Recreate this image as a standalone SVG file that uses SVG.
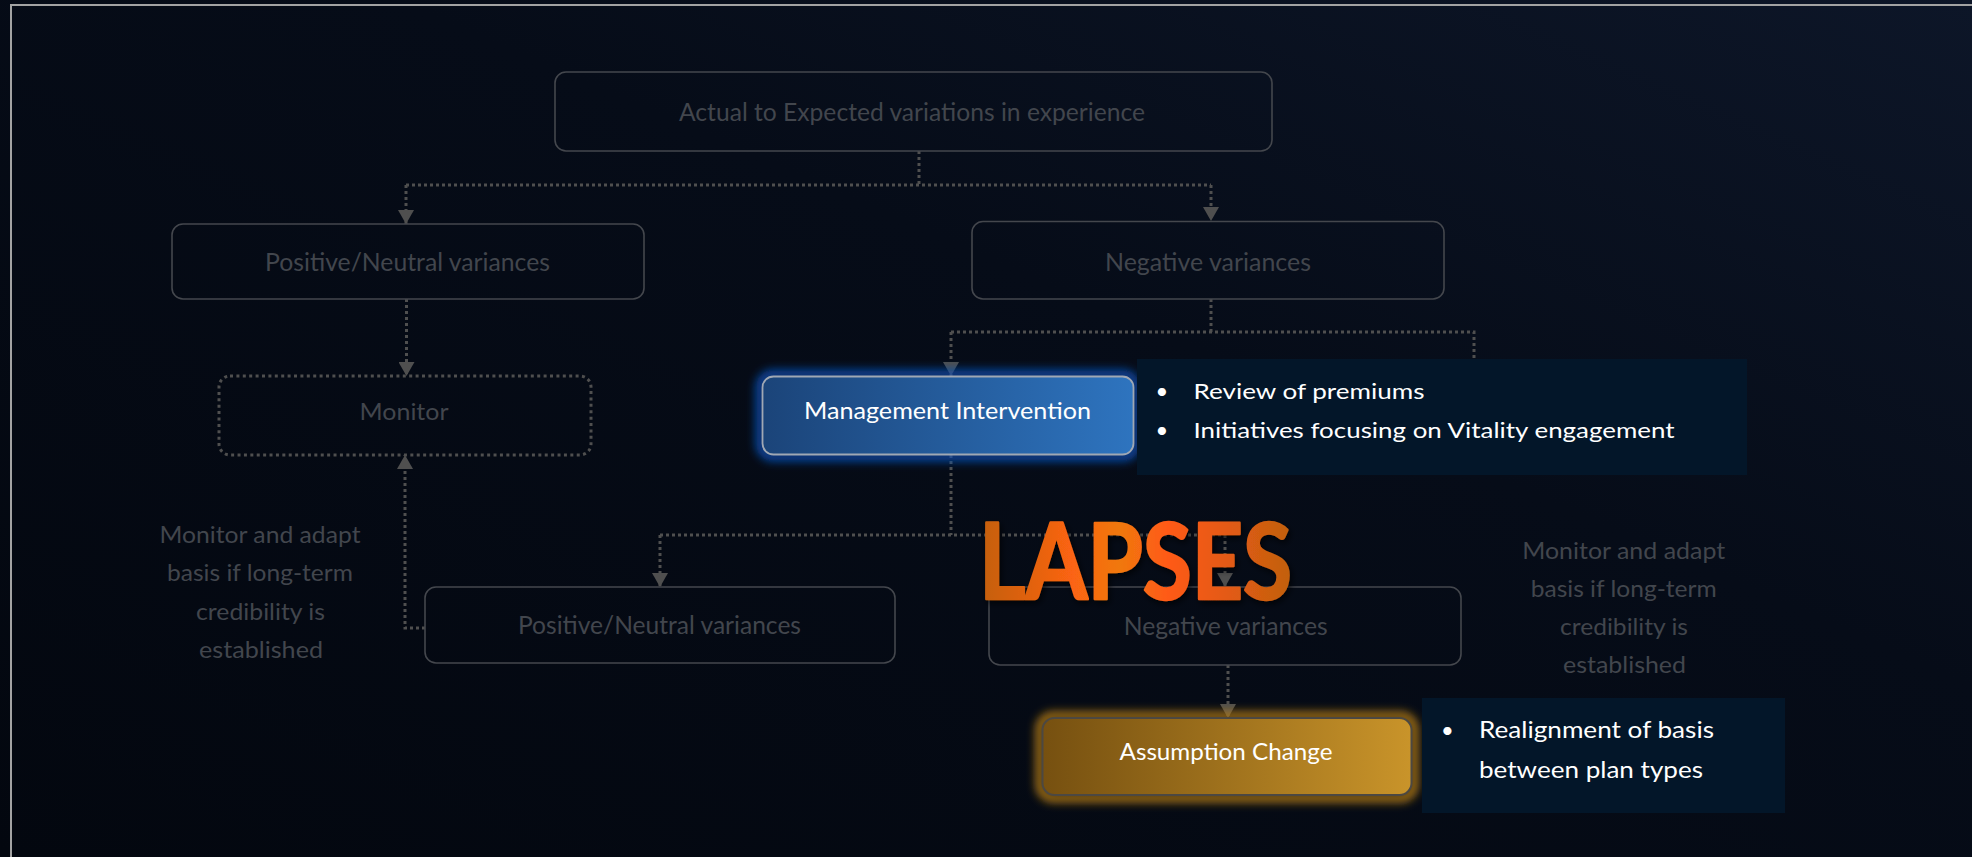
<svg xmlns="http://www.w3.org/2000/svg" width="1972" height="857" viewBox="0 0 1972 857">
<defs>
<style>
.dim{fill:none;stroke:#44474d;stroke-width:1.6}
.dt{font-family:Lato,"Liberation Sans",sans-serif;fill:#42464d;text-anchor:middle}
.wt{font-family:Lato,"Liberation Sans",sans-serif;fill:#ffffff}
.con{fill:none;stroke:#4f4f4f;stroke-width:3;stroke-dasharray:3 3}
</style>
<linearGradient id="bg" x1="0" y1="1" x2="1" y2="0">
<stop offset="0" stop-color="#03070f"/>
<stop offset="0.6" stop-color="#060c18"/>
<stop offset="1" stop-color="#0d1628"/>
</linearGradient>
<linearGradient id="blue" x1="0" x2="1" y1="0" y2="0">
<stop offset="0" stop-color="#1b4479"/>
<stop offset="1" stop-color="#2e74bf"/>
</linearGradient>
<linearGradient id="gold" x1="0" x2="1" y1="0" y2="0">
<stop offset="0" stop-color="#765010"/>
<stop offset="1" stop-color="#c9942a"/>
</linearGradient>
<linearGradient id="lap" x1="978" x2="1293" y1="0" y2="0" gradientUnits="userSpaceOnUse">
<stop offset="0" stop-color="#c25f0c"/>
<stop offset="0.3" stop-color="#fb6412"/>
<stop offset="0.45" stop-color="#f07810"/>
<stop offset="0.6" stop-color="#ff5a14"/>
<stop offset="0.8" stop-color="#e25a14"/>
<stop offset="1" stop-color="#c0600e"/>
</linearGradient>
<filter id="glow" x="-20%" y="-50%" width="140%" height="200%"><feGaussianBlur stdDeviation="5"/></filter>
<filter id="sh" x="-10%" y="-20%" width="120%" height="140%"><feDropShadow dx="2" dy="3" stdDeviation="3" flood-color="#000" flood-opacity="0.7"/></filter>
<marker id="arr" markerUnits="userSpaceOnUse" viewBox="0 0 14 16" markerWidth="14" markerHeight="16" refX="14" refY="8" orient="auto">
<path d="M0,0 L14,8 L0,16 Z" fill="#4f4f4f"/>
</marker>
</defs>
<rect x="0" y="0" width="1972" height="857" fill="url(#bg)"/>
<rect x="11" y="5" width="2000" height="900" fill="none" stroke="#a3a3a3" stroke-width="2"/>

<g id="connectors">
<path class="con" d="M919,151 V185"/>
<path class="con" d="M406,185 H1211"/>
<path class="con" d="M406,185 V224" marker-end="url(#arr)"/>
<path class="con" d="M1211,185 V221" marker-end="url(#arr)"/>
<path class="con" d="M406.5,299 V376" marker-end="url(#arr)"/>
<path class="con" d="M1211,299 V332"/>
<path class="con" d="M951,332 H1474 V372"/>
<path class="con" d="M951,332 V376" marker-end="url(#arr)"/>
<path class="con" d="M951,455 V535"/>
<path class="con" d="M660,535 H1225"/>
<path class="con" d="M660,535 V587" marker-end="url(#arr)"/>
<path class="con" d="M1225,535 V587" marker-end="url(#arr)"/>
<path class="con" d="M425,628 H405 V455" marker-end="url(#arr)"/>
<path class="con" d="M1228,665 V718" marker-end="url(#arr)"/>
</g>

<g id="node-actual">
<rect class="dim" x="555" y="72" width="717" height="79" rx="11"/>
<text class="dt" x="912" y="121" font-size="25" textLength="466" lengthAdjust="spacingAndGlyphs">Actual to Expected variations in experience</text>
</g>
<g id="node-positive1">
<rect class="dim" x="172" y="224" width="472" height="75" rx="11"/>
<text class="dt" x="407.5" y="271" font-size="25" textLength="285" lengthAdjust="spacingAndGlyphs">Positive/Neutral variances</text>
</g>
<g id="node-negative1">
<rect class="dim" x="972" y="221.5" width="472" height="77.5" rx="11"/>
<text class="dt" x="1208" y="271" font-size="25" textLength="206" lengthAdjust="spacingAndGlyphs">Negative variances</text>
</g>
<g id="node-monitor">
<rect x="219" y="376" width="372" height="79" rx="11" fill="none" stroke="#4f4f4f" stroke-width="3" stroke-dasharray="3 3.4"/>
<text class="dt" x="404" y="419.5" font-size="24" textLength="89" lengthAdjust="spacingAndGlyphs">Monitor</text>
</g>
<g id="node-management">
<rect x="760" y="374" width="376" height="83" rx="13" fill="none" stroke="#0c4fb4" stroke-width="8" filter="url(#glow)"/>
<rect x="762.5" y="376.5" width="371" height="78" rx="11" fill="url(#blue)" stroke="#a0a8b4" stroke-width="1.8"/>
<text class="wt" x="947.5" y="419" font-size="24" text-anchor="middle" textLength="287" lengthAdjust="spacingAndGlyphs">Management Intervention</text>
</g>
<g id="note-management">
<rect x="1137" y="359" width="610" height="116" fill="#031629"/>
<text class="wt" x="1162" y="399" font-size="22" text-anchor="middle">•</text>
<text class="wt" x="1193.5" y="399" font-size="22" textLength="231" lengthAdjust="spacingAndGlyphs">Review of premiums</text>
<text class="wt" x="1162" y="438" font-size="22" text-anchor="middle">•</text>
<text class="wt" x="1193.5" y="438" font-size="22" textLength="481" lengthAdjust="spacingAndGlyphs">Initiatives focusing on Vitality engagement</text>
</g>
<g id="note-left">
<text class="dt" x="260" y="542.5" font-size="22.5" textLength="201" lengthAdjust="spacingAndGlyphs">Monitor and adapt</text>
<text class="dt" x="260" y="581" font-size="22.5" textLength="186" lengthAdjust="spacingAndGlyphs">basis if long-term</text>
<text class="dt" x="260.5" y="619.5" font-size="22.5" textLength="129" lengthAdjust="spacingAndGlyphs">credibility is</text>
<text class="dt" x="261" y="658" font-size="22.5" textLength="124" lengthAdjust="spacingAndGlyphs">established</text>
</g>
<g id="node-positive2">
<rect class="dim" x="425" y="587" width="470" height="76" rx="11"/>
<text class="dt" x="659.5" y="634" font-size="25" textLength="283" lengthAdjust="spacingAndGlyphs">Positive/Neutral variances</text>
</g>
<g id="node-negative2">
<rect class="dim" x="989" y="587" width="472" height="78" rx="11"/>
<text class="dt" x="1225.7" y="635" font-size="25" textLength="204" lengthAdjust="spacingAndGlyphs">Negative variances</text>
</g>
<g id="note-right">
<text class="dt" x="1623.7" y="558.5" font-size="22.5" textLength="203" lengthAdjust="spacingAndGlyphs">Monitor and adapt</text>
<text class="dt" x="1623.7" y="597" font-size="22.5" textLength="186" lengthAdjust="spacingAndGlyphs">basis if long-term</text>
<text class="dt" x="1624" y="635" font-size="22.5" textLength="128" lengthAdjust="spacingAndGlyphs">credibility is</text>
<text class="dt" x="1624.5" y="673.3" font-size="22.5" textLength="123" lengthAdjust="spacingAndGlyphs">established</text>
</g>
<g id="node-assumption">
<rect x="1040" y="716" width="374" height="82" rx="13" fill="none" stroke="#b47c12" stroke-width="8" filter="url(#glow)"/>
<rect x="1042.5" y="718" width="369" height="77" rx="12" fill="url(#gold)" stroke="#4c4842" stroke-width="2"/>
<text class="wt" x="1226" y="760" font-size="24" text-anchor="middle" textLength="213" lengthAdjust="spacingAndGlyphs">Assumption Change</text>
</g>
<g id="note-assumption">
<rect x="1422" y="698" width="363" height="115" fill="#031629"/>
<text class="wt" x="1447.4" y="738" font-size="22" text-anchor="middle">•</text>
<text class="wt" x="1479" y="738" font-size="22.5" textLength="235" lengthAdjust="spacingAndGlyphs">Realignment of basis</text>
<text class="wt" x="1479" y="778" font-size="22.5" textLength="224" lengthAdjust="spacingAndGlyphs">between plan types</text>
</g>
<g id="title-lapses">
<text x="979" y="599" font-family="Lato,'Liberation Sans',sans-serif" font-weight="bold" font-size="106" fill="url(#lap)" stroke="url(#lap)" stroke-width="2.5" stroke-linejoin="round" textLength="313" lengthAdjust="spacingAndGlyphs" filter="url(#sh)">LAPSES</text>
</g>
</svg>
